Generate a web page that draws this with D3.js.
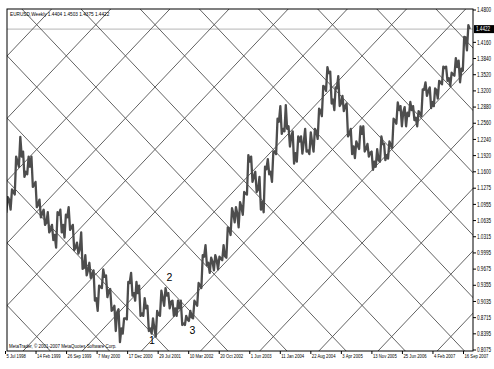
<!DOCTYPE html>
<html><head><meta charset="utf-8">
<script src="https://cdn.jsdelivr.net/npm/d3@7"></script>
<style>body{margin:0;background:#fff;} svg{display:block;}</style>
</head><body>
<script>
// ---- data (EURUSD monthly) ----
const firstMonth = "1998-07";
const firstOpen = 1.095;
const high = [
  1.110,1.125,1.190,1.229,1.200,1.190,
  1.190,1.140,1.105,1.085,1.080,1.055,1.080,1.085,1.075,1.090,1.055,1.020,
  1.040,0.995,0.980,0.965,0.935,0.967,0.955,0.928,0.895,0.888,0.870,0.942,
  0.960,0.942,0.935,0.910,0.895,0.870,0.885,0.925,0.930,0.920,0.905,0.905,
  0.905,0.875,0.885,0.905,0.940,0.995,1.015,0.990,0.995,0.992,1.015,1.050,
  1.088,1.090,1.100,1.120,1.193,1.190,1.160,1.150,1.170,1.185,1.200,1.265,
  1.290,1.292,1.250,1.240,1.230,1.230,1.245,1.238,1.245,1.285,1.330,1.367,
  1.358,1.327,1.349,1.310,1.295,1.245,1.220,1.250,1.250,1.215,1.200,1.205,
  1.230,1.215,1.220,1.265,1.297,1.290,1.288,1.298,1.290,1.280,1.323,1.337,
  1.327,1.325,1.340,1.368,1.368,1.356,1.385,1.380,1.427,1.450];
const low = [
  1.080,1.085,1.115,1.170,1.150,1.155,
  1.130,1.090,1.070,1.055,1.040,1.025,1.010,1.040,1.030,1.045,1.005,0.998,
  0.968,0.955,0.950,0.905,0.885,0.930,0.912,0.885,0.845,0.823,0.840,0.868,
  0.915,0.905,0.875,0.875,0.845,0.840,0.834,0.875,0.895,0.890,0.875,0.875,
  0.857,0.857,0.865,0.870,0.895,0.930,0.975,0.960,0.965,0.967,0.985,0.990,
  1.035,1.060,1.050,1.075,1.115,1.140,1.120,1.085,1.080,1.155,1.140,1.195,
  1.235,1.240,1.210,1.176,1.180,1.196,1.200,1.195,1.200,1.225,1.270,1.320,
  1.295,1.282,1.290,1.280,1.230,1.195,1.187,1.205,1.200,1.190,1.164,1.170,
  1.180,1.183,1.186,1.207,1.255,1.250,1.250,1.270,1.262,1.250,1.270,1.310,
  1.286,1.290,1.305,1.333,1.340,1.330,1.350,1.337,1.360,1.400];
const close = [
  1.105,1.120,1.180,1.190,1.160,1.170,
  1.135,1.095,1.078,1.060,1.045,1.035,1.075,1.055,1.070,1.050,1.010,1.007,
  0.970,0.965,0.957,0.910,0.932,0.952,0.925,0.888,0.882,0.850,0.870,0.940,
  0.920,0.920,0.880,0.890,0.850,0.850,0.877,0.910,0.915,0.903,0.890,0.890,
  0.860,0.868,0.872,0.900,0.935,0.992,0.980,0.982,0.986,0.988,0.993,1.048,
  1.077,1.078,1.090,1.117,1.180,1.150,1.125,1.100,1.165,1.160,1.200,1.259,
  1.245,1.245,1.230,1.197,1.220,1.218,1.202,1.217,1.240,1.280,1.328,1.355,
  1.303,1.325,1.295,1.290,1.235,1.210,1.212,1.235,1.205,1.198,1.180,1.183,
  1.215,1.193,1.212,1.262,1.282,1.278,1.277,1.282,1.267,1.275,1.322,1.320,
  1.298,1.322,1.336,1.365,1.345,1.353,1.367,1.364,1.426,1.442];
const lastBarEnd = "2007-11-01";

// axis ticks / labels
const priceTicks = [1.4800,1.4160,1.3840,1.3520,1.3200,1.2880,1.2560,1.2240,1.1920,1.1600,
  1.1275,1.0955,1.0635,1.0315,0.9995,0.9675,0.9355,0.9035,0.8715,0.8395,0.8075];
const dateTicks = ["1998-07-05","1999-02-14","1999-09-26","2000-05-07","2000-12-17","2001-07-29",
  "2002-03-10","2002-10-20","2003-06-01","2004-01-11","2004-08-22","2005-04-03","2005-11-13",
  "2006-06-25","2007-02-04","2007-09-16"];
const bidPrice = 1.4422;
const titleText = "EURUSD,Weekly  1.4404 1.4503 1.4375 1.4422";
const copyrightText = "MetaTrader, \u00A9 2001-2007 MetaQuotes Software Corp.";

// Gann grid definition
const gridAnchorDate = "2001-07-06";
const gridAnchorPrice = 0.834;
const gridStepWeeks = 62;
const gridStepPrice = 0.1234;

// wave labels
const waveLabels = ["1","2","3"];
const waveDates = ["2001-06-14","2001-10-20","2002-04-07"];
const wavePrices = [0.8194,0.944,0.839];

// ---- drawing ----
const W = 494, H = 369;
const L = 7, R = 473, T = 9, B = 351;
const parse = d3.timeParse("%Y-%m-%d");
const svg = d3.select("body").append("svg").attr("width", W).attr("height", H)
  .style("font-family", "'Liberation Sans', Arial, sans-serif");

const x = d3.scaleTime().domain([parse("1998-07-05"), parse("2007-09-16")]).range([5.5, 463.5]);
const y = d3.scaleLinear().domain([0.8075, 1.48]).range([350, 10]);

svg.append("rect").attr("width", W).attr("height", H).attr("fill", "#fff");
svg.append("defs").append("clipPath").attr("id", "plot")
  .append("rect").attr("x", L).attr("y", T).attr("width", R - L).attr("height", B - T);
const plot = svg.append("g").attr("clip-path", "url(#plot)");

// bid line
plot.append("line").attr("x1", L).attr("x2", R).attr("y1", y(bidPrice)).attr("y2", y(bidPrice))
  .attr("stroke", "#c4c4c4").attr("stroke-width", 1.4);

// Gann grid
const aD = parse(gridAnchorDate);
const ax = x(aD), ay = y(gridAnchorPrice);
const hp = x(d3.timeWeek.offset(aD, gridStepWeeks)) - ax;
const vp = y(gridAnchorPrice) - y(gridAnchorPrice + gridStepPrice);
const s = vp / hp;
const gridLines = [];
for (let k = -14; k <= 14; k++) {
  gridLines.push([L - 5, ay - s * (L - 5 - ax) + k * vp, R + 5, ay - s * (R + 5 - ax) + k * vp]);
  gridLines.push([L - 5, ay + s * (L - 5 - ax) + k * vp, R + 5, ay + s * (R + 5 - ax) + k * vp]);
}
plot.append("g").selectAll("line").data(gridLines).join("line")
  .attr("x1", d => d[0]).attr("y1", d => d[1]).attr("x2", d => d[2]).attr("y2", d => d[3])
  .attr("stroke", "#505050").attr("stroke-width", 0.9);

// price path
const m0 = d3.timeParse("%Y-%m")(firstMonth);
const months = high.map((_, i) => d3.timeMonth.offset(m0, i));
const pts = [];
high.forEach((h, i) => {
  const o = i === 0 ? firstOpen : close[i - 1];
  const c = close[i], l = low[i];
  const x0 = x(months[i]);
  const x1 = i === high.length - 1 ? x(parse(lastBarEnd)) : x(months[i + 1]);
  const up = c >= o;
  const e1 = up ? l : h, e2 = up ? h : l;
  if (i === 0) pts.push([x0, y(o)]);
  pts.push([x0 + (x1 - x0) / 3, y(e1)]);
  pts.push([x0 + 2 * (x1 - x0) / 3, y(e2)]);
  pts.push([x1, y(c)]);
});
plot.append("path").attr("d", d3.line()(pts)).attr("fill", "none")
  .attr("stroke", "#4d4d4d").attr("stroke-width", 2.3).attr("stroke-linejoin", "round");

// frame
svg.append("rect").attr("x", L).attr("y", T).attr("width", R - L).attr("height", B - T)
  .attr("fill", "none").attr("stroke", "#000").attr("stroke-width", 1);

// helper for compressed small text
function smallText(g, tx, ty, str, size, sx, fill) {
  return g.append("text").attr("transform", `translate(${tx},${ty}) scale(${sx},1)`)
    .attr("font-size", size).attr("fill", fill || "#000").text(str);
}

// price axis
const fmt4 = d3.format(".4f");
const ya = svg.append("g");
priceTicks.forEach(v => {
  ya.append("line").attr("x1", R).attr("x2", R + 3).attr("y1", y(v)).attr("y2", y(v)).attr("stroke", "#000");
  smallText(ya, R + 4, y(v) + 2.2, fmt4(v), 6.4, 0.72);
});
// bid label
ya.append("rect").attr("x", R + 1).attr("y", y(bidPrice) - 4).attr("width", 20).attr("height", 8).attr("fill", "#000");
smallText(ya, R + 3, y(bidPrice) + 2.2, fmt4(bidPrice), 6.4, 0.72, "#fff");

// time axis
const fmtD = d3.timeFormat("%-d %b %Y");
const xa = svg.append("g");
dateTicks.forEach(ds => {
  const d = parse(ds);
  xa.append("line").attr("x1", x(d)).attr("x2", x(d)).attr("y1", B).attr("y2", B + 3).attr("stroke", "#000");
  smallText(xa, x(d) + 1, B + 7, fmtD(d), 6.2, 0.68);
});

// texts
smallText(svg, 10, 16, titleText, 6.2, 0.76);
smallText(svg, 9, 348, copyrightText, 6.2, 0.72);

waveLabels.forEach((t, i) => {
  svg.append("text").attr("x", x(parse(waveDates[i]))).attr("y", y(wavePrices[i]))
    .attr("text-anchor", "middle").attr("font-size", 10.5).attr("fill", "#000").text(t);
});
</script>
</body></html>
